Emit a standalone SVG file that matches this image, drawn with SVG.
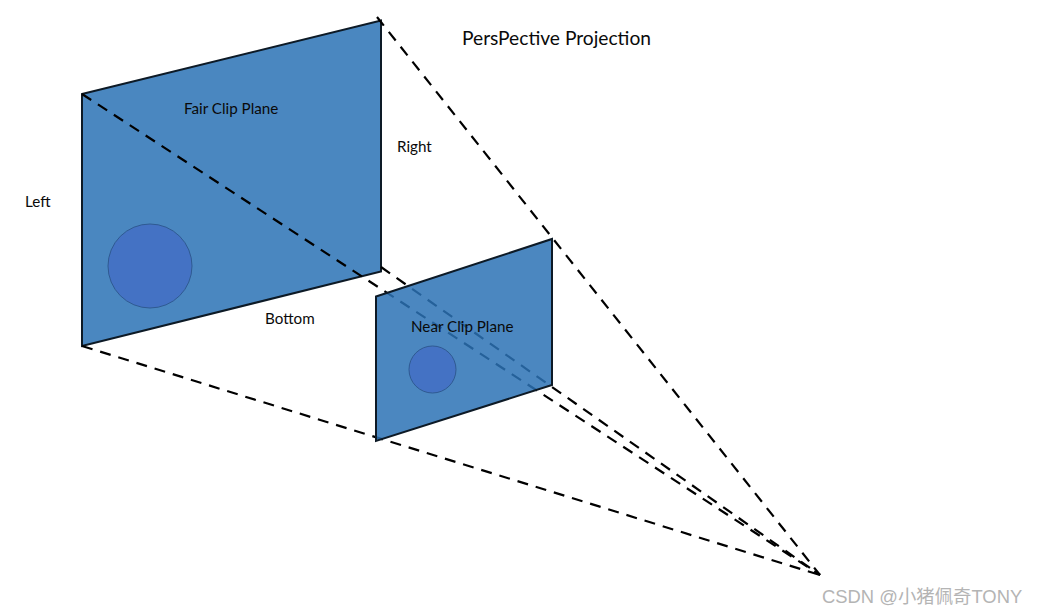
<svg xmlns="http://www.w3.org/2000/svg" width="1037" height="615" viewBox="0 0 1037 615">
<style>
.plane{stroke:#0d1a26;stroke-width:2;stroke-linejoin:miter}
.dash{fill:none;stroke:#000;stroke-width:2.2;stroke-dasharray:11 8}
.ball{fill:#4472c4;stroke:#2f5a92;stroke-width:1}
text{font-family:"Lato","Open Sans","Liberation Sans",sans-serif;font-size:15.200px;fill:#0a0a0a}
</style>
<rect width="1037" height="615" fill="#fff"/>
<g id="far-plane">
<polygon class="plane" fill="#4a87c0" points="82,94 381,20.500 381,271.500 82,346"/>
<circle class="ball" cx="150" cy="266" r="42"/>
<text x="184" y="114">Fair Clip Plane</text>
</g>
<g id="connectors">
<line class="dash" x1="377" y1="17" x2="820" y2="575"/>
<line class="dash" x1="82" y1="94" x2="820" y2="575"/>
<line class="dash" x1="381" y1="267" x2="820" y2="575"/>
<line class="dash" x1="82" y1="346" x2="820" y2="575"/>
</g>
<g id="near-plane">
<polygon class="plane" fill="#2c72b5" fill-opacity="0.85" points="376,296.500 552,239 552,385 376,441"/>
<circle class="ball" cx="432.500" cy="369.500" r="23.500"/>
<text x="411" y="331.500">Near Clip Plane</text>
</g>
<g id="labels">
<text x="25" y="207">Left</text>
<text x="397" y="152">Right</text>
<text x="265" y="324">Bottom</text>
<text x="462" y="45" style="font-size:19.200px">PersPective Projection</text>
<text x="822" y="603" style="font-family:'Liberation Sans','Noto Sans CJK SC',sans-serif;font-size:18.400px;fill:#b4b4b4">CSDN @小猪佩奇TONY</text>
</g>
</svg>
